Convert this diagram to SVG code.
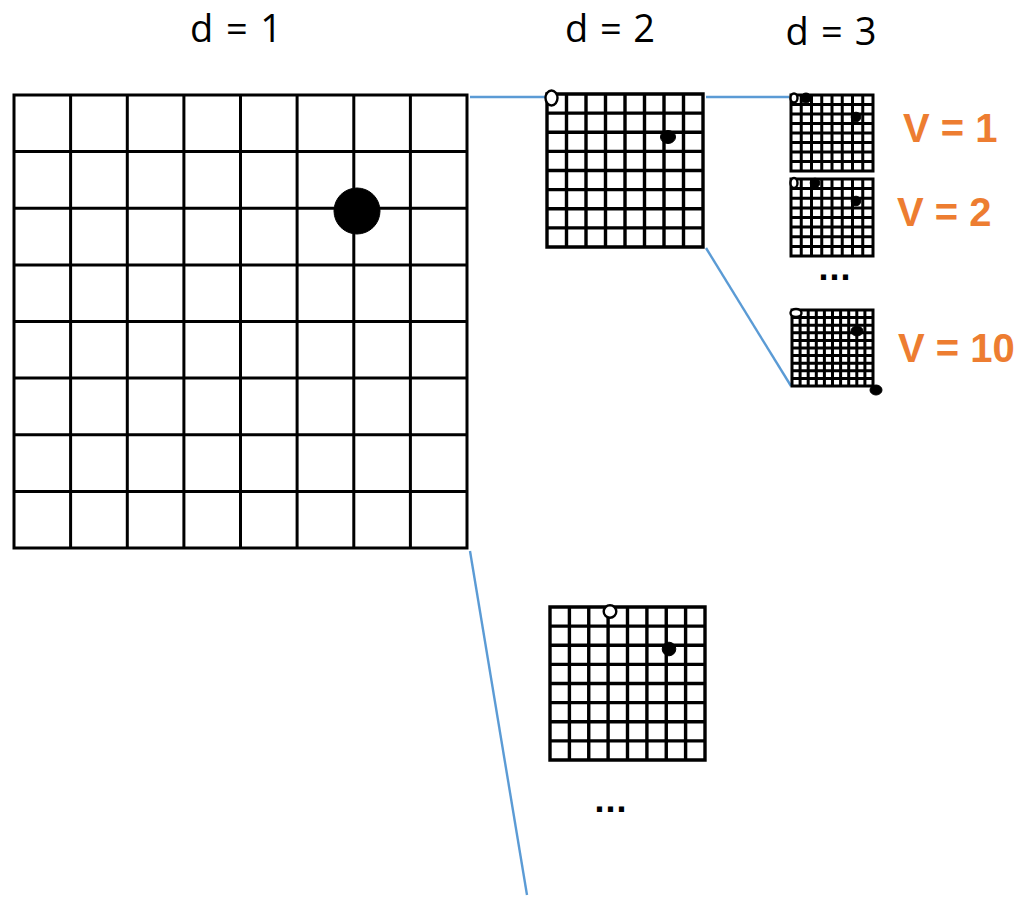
<svg xmlns="http://www.w3.org/2000/svg" width="1021" height="897" viewBox="0 0 1021 897">
<style>
.g1{fill:none;stroke:#000;stroke-width:3;stroke-linecap:square}
.g2{fill:none;stroke:#000;stroke-width:3.4;stroke-linecap:square}
.g3{fill:none;stroke:#000;stroke-width:3;stroke-linecap:square}
.conn{fill:none;stroke:#5B9BD5;stroke-width:2.4}
.b{fill:#000;stroke:#000;stroke-width:1}
.w{fill:#fff;stroke:#000;stroke-width:2.4}
.dt{font-family:"Open Sans","Liberation Sans",sans-serif;font-size:38px;fill:#000;text-anchor:middle}
.vt{font-family:"Liberation Sans",Arial,sans-serif;font-size:40px;font-weight:bold;fill:#ED7D31}
.dots{font-family:"Liberation Sans",Arial,sans-serif;font-size:36px;font-weight:bold;fill:#000;text-anchor:middle;letter-spacing:1px}
</style>
<rect width="1021" height="897" fill="#fff"/>
<g id="labels">
<text class="dt" x="236" y="42" textLength="92">d = 1</text>
<text class="dt" x="610" y="42" textLength="90">d = 2</text>
<text class="dt" x="831" y="45" textLength="91">d = 3</text>
</g>
<g id="connectors">
<line class="conn" x1="470" y1="97" x2="545" y2="97"/>
<line class="conn" x1="470" y1="551" x2="527" y2="895"/>
<line class="conn" x1="706" y1="97" x2="789" y2="97"/>
<line class="conn" x1="706" y1="248" x2="791" y2="386"/>
</g>
<g id="board-d1">
<path class="g1" d="M14 95V548M70.6 95V548M127.3 95V548M183.9 95V548M240.5 95V548M297.1 95V548M353.8 95V548M410.4 95V548M467 95V548M14 95H467M14 151.6H467M14 208.3H467M14 264.9H467M14 321.5H467M14 378.1H467M14 434.8H467M14 491.4H467M14 548H467"/>
<circle class="b" cx="357" cy="211" r="23"/>
</g>
<g id="board-d2-a">
<path class="g2" d="M547 94V247M566.5 94V247M586 94V247M605.5 94V247M625 94V247M644.5 94V247M664 94V247M683.5 94V247M703 94V247M547 94H703M547 113.1H703M547 132.3H703M547 151.4H703M547 170.5H703M547 189.6H703M547 208.8H703M547 227.9H703M547 247H703"/>
<ellipse class="w" cx="551.5" cy="98" rx="6" ry="7.5"/>
<ellipse class="b" cx="668" cy="137" rx="7.5" ry="6.5"/>
</g>
<g id="board-d2-b">
<path class="g2" d="M550 607V760M569.4 607V760M588.75 607V760M608.1 607V760M627.5 607V760M646.9 607V760M666.25 607V760M685.6 607V760M705 607V760M550 607H705M550 626.1H705M550 645.3H705M550 664.4H705M550 683.5H705M550 702.6H705M550 721.8H705M550 740.9H705M550 760H705"/>
<circle class="w" cx="610" cy="611.5" r="6.3"/>
<circle class="b" cx="669" cy="649" r="6.8"/>
</g>
<g id="board-d3-v1">
<path class="g3" d="M791 95V171M801.25 95V171M811.5 95V171M821.75 95V171M832 95V171M842.25 95V171M852.5 95V171M862.75 95V171M873 95V171M791 95H873M791 104.5H873M791 114H873M791 123.5H873M791 133H873M791 142.5H873M791 152H873M791 161.5H873M791 171H873"/>
<ellipse class="w" cx="794" cy="98" rx="3.5" ry="4.5"/>
<circle class="b" cx="806" cy="98" r="5"/>
<circle class="b" cx="856" cy="117" r="4.8"/>
</g>
<g id="board-d3-v2">
<path class="g3" d="M791 179V256M801.25 179V256M811.5 179V256M821.75 179V256M832 179V256M842.25 179V256M852.5 179V256M862.75 179V256M873 179V256M791 179H873M791 188.6H873M791 198.25H873M791 207.9H873M791 217.5H873M791 227.1H873M791 236.75H873M791 246.4H873M791 256H873"/>
<ellipse class="w" cx="794" cy="183" rx="3.5" ry="5"/>
<circle class="b" cx="815" cy="183" r="4.8"/>
<circle class="b" cx="856" cy="201" r="4.8"/>
</g>
<g id="board-d3-v10">
<path class="g3" d="M792 310V386M800.1 310V386M808.2 310V386M816.3 310V386M824.4 310V386M832.5 310V386M840.6 310V386M848.7 310V386M856.8 310V386M864.9 310V386M873 310V386M792 310H873M792 317.6H873M792 325.2H873M792 332.8H873M792 340.4H873M792 348H873M792 355.6H873M792 363.2H873M792 370.8H873M792 378.4H873M792 386H873"/>
<ellipse class="w" cx="796" cy="313" rx="5.5" ry="4"/>
<ellipse class="b" cx="857" cy="331" rx="6" ry="5"/>
<ellipse class="b" cx="876" cy="390" rx="6" ry="5"/>
</g>
<g id="values">
<text class="vt" x="903" y="142">V = 1</text>
<text class="vt" x="897" y="226">V = 2</text>
<text class="vt" x="898" y="362">V = 10</text>
</g>
<g id="ellipses">
<text class="dots" x="835" y="280">...</text>
<text class="dots" x="611" y="812">...</text>
</g>
</svg>
